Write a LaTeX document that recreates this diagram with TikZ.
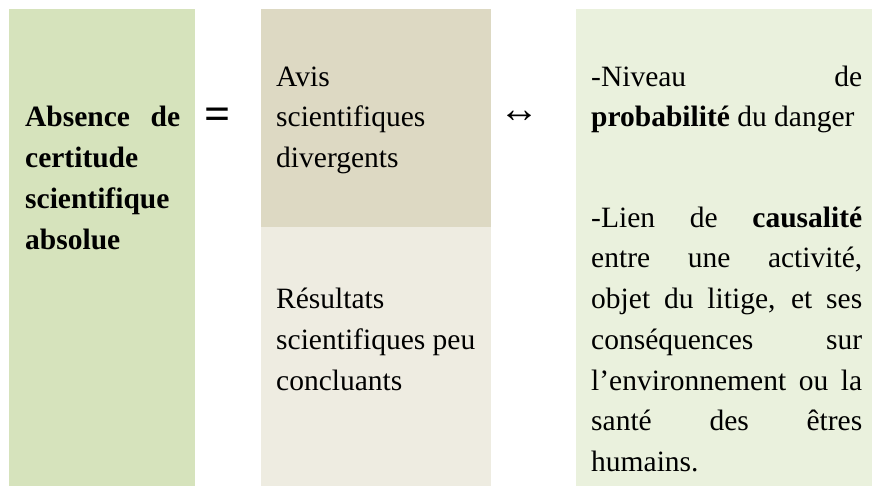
\documentclass[tikz,border=0pt]{standalone}
\usepackage{fontspec}
\setmainfont{Liberation Serif}
\definecolor{leftgreen}{HTML}{D6E3BC}
\definecolor{midtan}{HTML}{DDD9C3}
\definecolor{midlight}{HTML}{EEECE1}
\definecolor{rightgreen}{HTML}{EAF1DD}
\tikzset{
  cellbox/.style={draw=none, inner sep=0pt, anchor=north west},
  txt/.style={anchor=base west, inner sep=0pt, font=\fontsize{29.5}{40.7}\selectfont},
  symb/.style={anchor=center, inner sep=0pt}
}
\begin{document}
\begin{tikzpicture}[x=1pt,y=-1pt]
\useasboundingbox (0,0) rectangle (872,486);
\fill[white] (0,0) rectangle (872,486);
% boxes
\node[cellbox, fill=leftgreen, minimum width=186pt, minimum height=477pt] (b1) at (9,9) {};
\node[cellbox, fill=midtan, minimum width=230pt, minimum height=218pt] (b2a) at (261,9) {};
\node[cellbox, fill=midlight, minimum width=230pt, minimum height=259pt] (b2b) at (261,227) {};
\node[cellbox, fill=rightgreen, minimum width=296pt, minimum height=477pt] (b3) at (576,9) {};
% left column
\node[txt] (l1) at (25,127) {\makebox[155pt][s]{\bfseries Absence de}};
\node[txt] (l2) at (25,167.7) {\bfseries certitude};
\node[txt] (l3) at (25,208.4) {\bfseries scientifique};
\node[txt] (l4) at (25,249.1) {\bfseries absolue};
% symbols
\node[symb, font=\fontsize{46}{46}\selectfont\bfseries] (eq) at (218,119) {=};
\node[symb, font=\fontsize{40}{40}\selectfont] (lr) at (519,117) {↔};
% middle column
\node[txt] (m1) at (276,86.3) {Avis};
\node[txt] (m2) at (276,127) {scientifiques};
\node[txt] (m3) at (276,167.7) {divergents};
\node[txt] (m4) at (276,308.7) {Résultats};
\node[txt] (m5) at (276,349.4) {scientifiques peu};
\node[txt] (m6) at (276,390.1) {concluants};
% right column
\node[txt] (r1) at (591,86.3) {\makebox[271pt][s]{-Niveau de}};
\node[txt] (r2) at (591,127) {\textbf{probabilité} du danger};
\node[txt] (r3) at (591,227.3) {\makebox[271pt][s]{-Lien de \textbf{causalité}}};
\node[txt] (r4) at (591,268) {\makebox[271pt][s]{entre une activité,}};
\node[txt] (r5) at (591,308.7) {\makebox[271pt][s]{objet du litige, et ses}};
\node[txt] (r6) at (591,349.4) {\makebox[271pt][s]{conséquences sur}};
\node[txt] (r7) at (591,390.1) {\makebox[271pt][s]{l’environnement ou la}};
\node[txt] (r8) at (591,430.8) {\makebox[271pt][s]{santé des êtres}};
\node[txt] (r9) at (591,471.5) {humains.};
\end{tikzpicture}
\end{document}
